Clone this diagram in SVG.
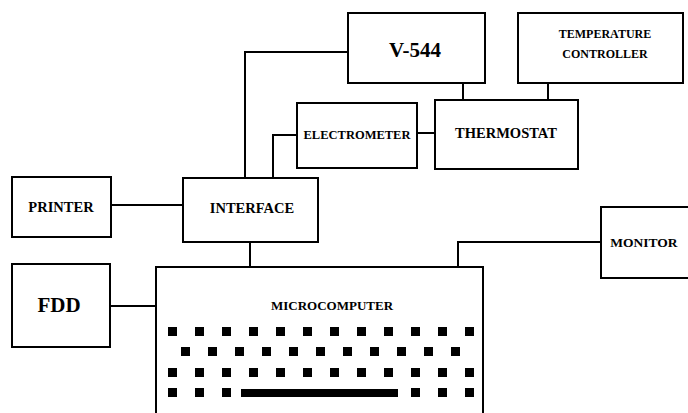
<svg xmlns="http://www.w3.org/2000/svg" width="688" height="413" viewBox="0 0 688 413">
<style>
.box{fill:#fff;stroke:#000;stroke-width:2}
.ln{fill:none;stroke:#000;stroke-width:2}
.t{font-family:"Liberation Serif","Times New Roman",serif;font-weight:bold;fill:#000;text-anchor:middle}
.k{fill:#000}
</style>
<rect width="688" height="413" fill="#fff"/>
<g id="connectors">
<polyline class="ln" points="245,178 245,52 348,52"/>
<polyline class="ln" points="273,178 273,135 297,135"/>
<line class="ln" x1="417" y1="133" x2="435" y2="133"/>
<line class="ln" x1="463" y1="83" x2="463" y2="100"/>
<line class="ln" x1="548" y1="83" x2="548" y2="100"/>
<line class="ln" x1="111" y1="205" x2="183" y2="205"/>
<line class="ln" x1="250" y1="242" x2="250" y2="267"/>
<line class="ln" x1="110" y1="306" x2="156" y2="306"/>
<polyline class="ln" points="458,267 458,242 601,242"/>
</g>
<g id="v544">
<rect class="box" x="348" y="13" width="137" height="70"/>
<text class="t" x="415" y="57" font-size="21">V-544</text>
</g>
<g id="tempcontroller">
<rect class="box" x="518" y="13" width="165" height="70"/>
<text class="t" x="605" y="38" font-size="12">TEMPERATURE</text>
<text class="t" x="605" y="58" font-size="12">CONTROLLER</text>
</g>
<g id="electrometer">
<rect class="box" x="297" y="103" width="120" height="65"/>
<text class="t" x="357" y="139" font-size="12.5">ELECTROMETER</text>
</g>
<g id="thermostat">
<rect class="box" x="435" y="100" width="143" height="69"/>
<text class="t" x="506" y="138" font-size="14.5">THERMOSTAT</text>
</g>
<g id="printer">
<rect class="box" x="12" y="177" width="99" height="60"/>
<text class="t" x="61" y="212" font-size="14.5">PRINTER</text>
</g>
<g id="interface">
<rect class="box" x="183" y="178" width="135" height="64"/>
<text class="t" x="252" y="213" font-size="14.5">INTERFACE</text>
</g>
<g id="fdd">
<rect class="box" x="12" y="264" width="98" height="83"/>
<text class="t" x="59" y="312" font-size="21">FDD</text>
</g>
<g id="monitor">
<rect class="box" x="601" y="207" width="100" height="71"/>
<text class="t" x="644" y="247" font-size="13.5">MONITOR</text>
</g>
<g id="microcomputer">
<rect class="box" x="156" y="267" width="327" height="160"/>
<text class="t" x="332" y="310" font-size="13">MICROCOMPUTER</text>
<g class="k">
<rect x="168" y="327" width="9" height="9"/><rect x="195" y="327" width="9" height="9"/><rect x="222" y="327" width="9" height="9"/><rect x="249" y="327" width="9" height="9"/><rect x="276" y="327" width="9" height="9"/><rect x="303" y="327" width="9" height="9"/><rect x="330" y="327" width="9" height="9"/><rect x="357" y="327" width="9" height="9"/><rect x="384" y="327" width="9" height="9"/><rect x="411" y="327" width="9" height="9"/><rect x="438" y="327" width="9" height="9"/><rect x="465" y="327" width="9" height="9"/>
<rect x="181" y="347" width="9" height="9"/><rect x="208" y="347" width="9" height="9"/><rect x="235" y="347" width="9" height="9"/><rect x="262" y="347" width="9" height="9"/><rect x="289" y="347" width="9" height="9"/><rect x="316" y="347" width="9" height="9"/><rect x="343" y="347" width="9" height="9"/><rect x="370" y="347" width="9" height="9"/><rect x="397" y="347" width="9" height="9"/><rect x="424" y="347" width="9" height="9"/><rect x="451" y="347" width="9" height="9"/>
<rect x="168" y="368" width="9" height="9"/><rect x="195" y="368" width="9" height="9"/><rect x="222" y="368" width="9" height="9"/><rect x="249" y="368" width="9" height="9"/><rect x="276" y="368" width="9" height="9"/><rect x="303" y="368" width="9" height="9"/><rect x="330" y="368" width="9" height="9"/><rect x="357" y="368" width="9" height="9"/><rect x="384" y="368" width="9" height="9"/><rect x="411" y="368" width="9" height="9"/><rect x="438" y="368" width="9" height="9"/><rect x="465" y="368" width="9" height="9"/>
<rect x="168" y="388" width="9" height="9"/><rect x="195" y="388" width="9" height="9"/><rect x="222" y="388" width="9" height="9"/><rect x="241" y="389" width="157" height="8"/><rect x="411" y="388" width="9" height="9"/><rect x="438" y="388" width="9" height="9"/><rect x="465" y="388" width="9" height="9"/>
</g>
</g>
</svg>
